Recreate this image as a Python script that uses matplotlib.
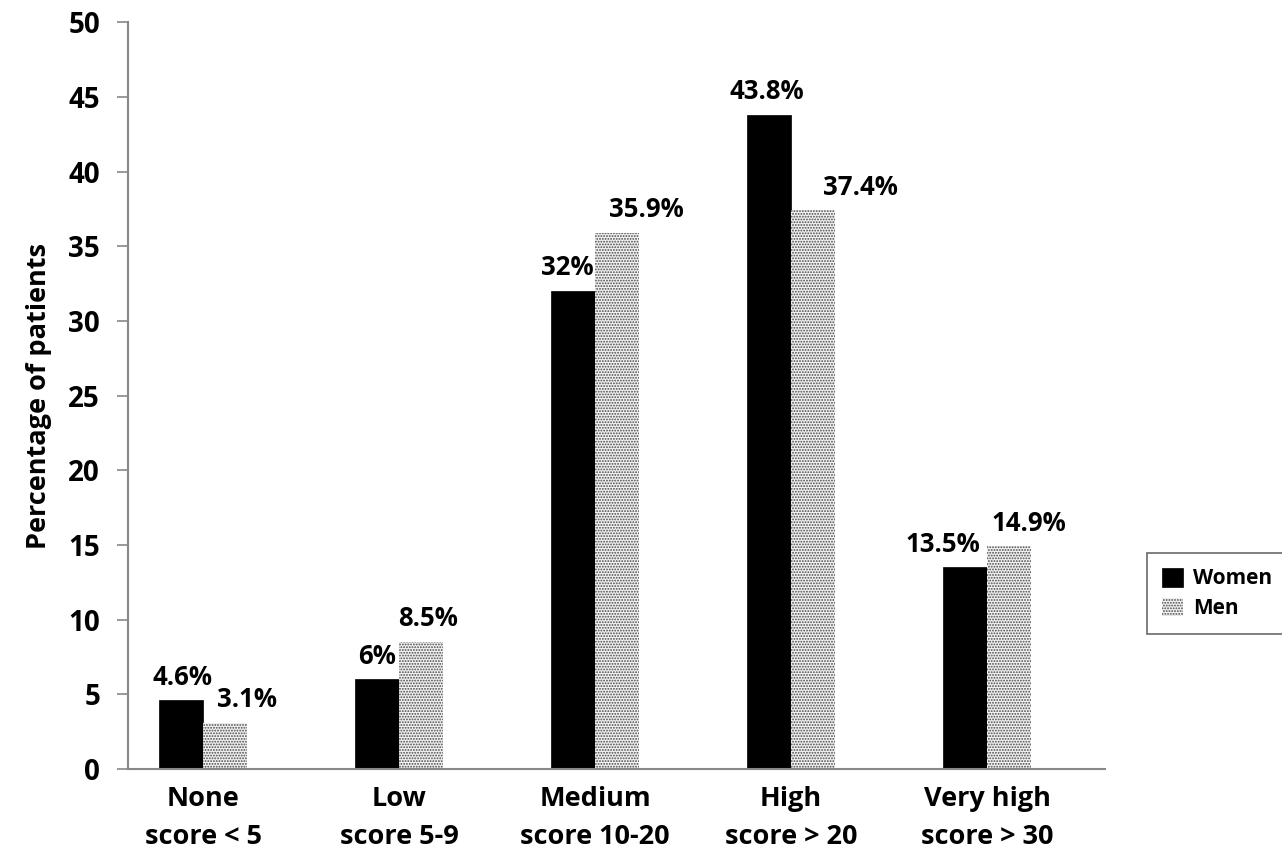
import numpy as np
import matplotlib.pyplot as plt

# data
categories = ['None\nscore < 5', 'Low\nscore 5-9', 'Medium\nscore 10-20',
              'High\nscore > 20', 'Very high\nscore > 30']
women = [4.6, 6.0, 32.0, 43.8, 13.5]
men = [3.1, 8.5, 35.9, 37.4, 14.9]
women_labels = ['4.6%', '6%', '32%', '43.8%', '13.5%']
men_labels = ['3.1%', '8.5%', '35.9%', '37.4%', '14.9%']

plt.rcParams['font.family'] = ['Open Sans', 'DejaVu Sans']
plt.rcParams['font.weight'] = 'bold'
plt.rcParams['hatch.linewidth'] = 0.9

fig = plt.figure(figsize=(12.82, 8.52), dpi=100)
ax = fig.add_axes([0.0998, 0.0974, 0.762, 0.8766])

x = np.arange(len(categories))
w = 0.225
b1 = ax.bar(x - w / 2, women, w, color='black', edgecolor='black', linewidth=0.5, label='Women')
b2 = ax.bar(x + w / 2, men, w, color='#f2f2f2', edgecolor='#4a4a4a', hatch='......',
            linewidth=0, label='Men')

# label offsets in points (as placed in the original)
w_off = [1, 0, -4, -2, -16]
m_off = [16, 5, 21, 34, 14]
for i in range(len(x)):
    ax.annotate(women_labels[i], (x[i] - w / 2, women[i]), xytext=(w_off[i], 7),
                textcoords='offset points', ha='center', va='bottom',
                fontsize=18.5, fontweight='bold')
    ax.annotate(men_labels[i], (x[i] + w / 2, men[i]), xytext=(m_off[i], 7),
                textcoords='offset points', ha='center', va='bottom',
                fontsize=18.5, fontweight='bold')

ax.set_ylim(0, 50)
ax.set_yticks(range(0, 51, 5))
ax.set_xlim(-0.383, 4.60)
ax.set_xticks(x)
ax.set_xticklabels(categories, fontsize=19.5, fontweight='bold', linespacing=1.6)
ax.tick_params(axis='x', length=0, pad=12)
ax.tick_params(axis='y', length=8, width=1.2, color='#888888', labelsize=20, pad=12)
for lab in ax.get_yticklabels():
    lab.set_fontweight('bold')

ax.spines['top'].set_visible(False)
ax.spines['right'].set_visible(False)
ax.spines['left'].set_color('#888888')
ax.spines['bottom'].set_color('#888888')
ax.spines['left'].set_linewidth(1.5)
ax.spines['bottom'].set_linewidth(1.5)

ax.set_ylabel('Percentage of patients', fontsize=19.5, fontweight='bold', labelpad=12)

leg = ax.legend(loc='center left', bbox_to_anchor=(1.033, 0.235), frameon=True,
                fancybox=False, edgecolor='#444444', fontsize=15,
                handlelength=1.0, handleheight=1.0, handletextpad=0.5,
                borderpad=0.7, labelspacing=0.4)
leg.get_frame().set_linewidth(1.2)
for t in leg.get_texts():
    t.set_fontweight('bold')

fig.savefig('out.png', dpi=100)
